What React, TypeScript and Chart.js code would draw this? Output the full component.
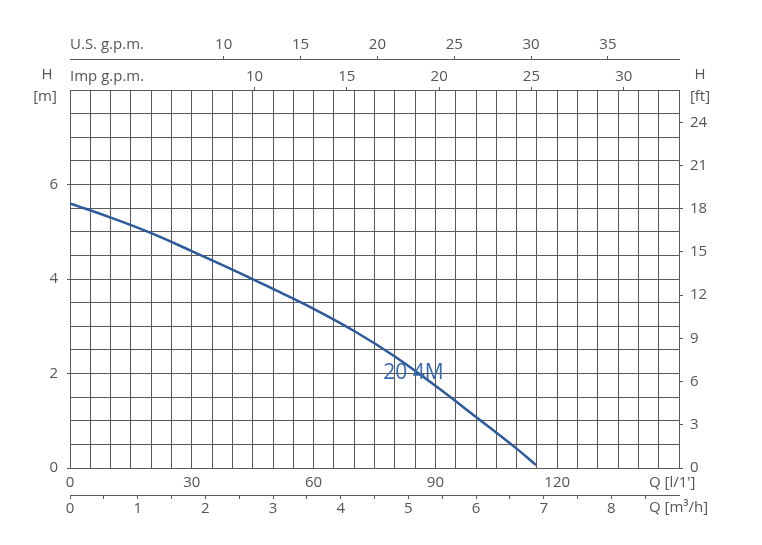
import React, { useEffect, useRef } from "react";
import { Chart, registerables } from "chart.js";
Chart.register(...registerables);

// Pump curve data (flow in l/min, head in m)
const Q_LPM = [0, 10, 20, 30, 40, 50, 60, 70, 80, 90, 100, 110, 114.8];
const H_M = [5.6, 5.3, 4.97, 4.59, 4.2, 3.79, 3.37, 2.9, 2.36, 1.74, 1.08, 0.41, 0.06];
const CURVE_LABEL = "20 4M";
const CURVE_LABEL_AT = { x: 84.6, y: 2.0 };

// Axis tick labels
const LPM_TICKS = [0, 30, 60, 90, 120];
const M3H_TICKS = [0, 1, 2, 3, 4, 5, 6, 7, 8];
const US_GPM_TICKS = [10, 15, 20, 25, 30, 35];
const IMP_GPM_TICKS = [10, 15, 20, 25, 30];
const HM_TICKS = [0, 2, 4, 6];
const HFT_TICKS = [0, 3, 6, 9, 12, 15, 18, 21, 24];

const LPM_MAX = 150;
const HM_MAX = 8;
const LPM_PER_M3H = 1000 / 60;
const LPM_PER_USGPM = 3.78541;
const LPM_PER_IMPGPM = 4.54609;
const FT_PER_M = 3.28084;

const FONT = "'Open Sans', sans-serif";
const TXT = "#555555";
const GRID = "#5a5a5a";
const BLUE = "#2c5a9c";

const steps = (min: number, max: number, step: number) => {
  const out: { value: number }[] = [];
  for (let v = min; v <= max + 1e-9; v += step) out.push({ value: Math.round(v * 1000) / 1000 });
  return out;
};
const setTicks = (vals: { value: number }[]) => (scale: any) => {
  scale.ticks = vals;
};
const has = (arr: number[], v: number) => arr.some((a) => Math.abs(a - v) < 1e-6);

export default function App() {
  const ref = useRef<HTMLCanvasElement>(null);
  useEffect(() => {
    const font = { family: FONT, size: 15 };
    const textPlugin = {
      id: "texts",
      afterDraw(chart: any) {
        const c = chart.ctx;
        const a = chart.chartArea;
        const sx = chart.scales.x;
        const sy = chart.scales.y;
        c.save();
        c.fillStyle = TXT;
        c.font = `15px ${FONT}`;
        c.textBaseline = "middle";
        c.textAlign = "left";
        c.fillText("U.S. g.p.m.", a.left, 45);
        c.fillText("Imp g.p.m.", a.left, 77);
        c.fillText("Q [l/1']", a.right - 30, 483);
        c.fillText("Q [m³/h]", a.right - 30, 508);
        c.textAlign = "center";
        c.fillText("H", a.left - 23, 75);
        c.fillText("[m]", a.left - 25, 97);
        c.fillText("H", a.right + 21, 75);
        c.fillText("[ft]", a.right + 21, 97);
        c.fillStyle = "#3a6bb0";
        c.font = `21px ${FONT}`;
        c.fillText(CURVE_LABEL, sx.getPixelForValue(CURVE_LABEL_AT.x), sy.getPixelForValue(CURVE_LABEL_AT.y));
        c.restore();
      },
    };
    const chart = new Chart(ref.current!, {
      type: "line",
      data: {
        datasets: [
          {
            data: Q_LPM.map((q, i) => ({ x: q, y: H_M[i] })),
            borderColor: BLUE,
            borderWidth: 2.5,
            pointRadius: 0,
            tension: 0.4,
            xAxisID: "x",
            yAxisID: "y",
          },
        ],
      },
      options: {
        animation: false,
        responsive: true,
        maintainAspectRatio: false,
        layout: { padding: 0 },
        plugins: { legend: { display: false }, tooltip: { enabled: false } },
        scales: {
          x: {
            type: "linear",
            position: "bottom",
            weight: 0,
            min: 0,
            max: LPM_MAX,
            afterBuildTicks: setTicks(steps(0, LPM_MAX, 5)),
            afterFit: (s: any) => { s.height = 27; },
            grid: { color: GRID, lineWidth: 1, drawTicks: false },
            border: { display: false },
            ticks: {
              font, color: TXT, padding: 6, maxRotation: 0, autoSkip: false,
              callback: (v: any) => (has(LPM_TICKS, v) ? String(v) : ""),
            },
          },
          x2: {
            type: "linear",
            position: "bottom",
            weight: 1,
            min: 0,
            max: LPM_MAX / LPM_PER_M3H,
            afterBuildTicks: setTicks(steps(0, 8.5, 0.5)),
            afterFit: (s: any) => { s.height = 50; },
            grid: { drawOnChartArea: false, color: GRID, tickLength: 4 },
            border: { display: true, color: GRID },
            ticks: {
              font, color: TXT, padding: 1, maxRotation: 0, autoSkip: false,
              callback: (v: any) => (has(M3H_TICKS, v) ? String(v) : ""),
            },
          },
          xi: {
            type: "linear",
            position: "top",
            weight: 0,
            min: 0,
            max: LPM_MAX / LPM_PER_IMPGPM,
            afterBuildTicks: setTicks(IMP_GPM_TICKS.map((v) => ({ value: v }))),
            afterFit: (s: any) => { s.height = 31; },
            grid: { drawOnChartArea: false, color: GRID, tickLength: 3 },
            border: { display: false },
            ticks: { font, color: TXT, padding: 1, maxRotation: 0, autoSkip: false },
          },
          xu: {
            type: "linear",
            position: "top",
            weight: 1,
            min: 0,
            max: LPM_MAX / LPM_PER_USGPM,
            afterBuildTicks: setTicks(US_GPM_TICKS.map((v) => ({ value: v }))),
            afterFit: (s: any) => { s.height = 59; },
            grid: { drawOnChartArea: false, color: GRID, tickLength: 3 },
            border: { display: true, color: GRID },
            ticks: { font, color: TXT, padding: 2, maxRotation: 0, autoSkip: false },
          },
          y: {
            type: "linear",
            position: "left",
            min: 0,
            max: HM_MAX,
            afterBuildTicks: setTicks(steps(0, HM_MAX, 0.5)),
            afterFit: (s: any) => { s.width = 70; },
            grid: {
              color: GRID,
              lineWidth: 1,
              tickLength: 3,
              tickColor: (ctx: any) => (ctx.tick && has(HM_TICKS, ctx.tick.value) ? GRID : "rgba(0,0,0,0)"),
            },
            border: { display: false },
            ticks: {
              font, color: TXT, padding: 9, autoSkip: false,
              callback: (v: any) => (has(HM_TICKS, v) ? String(v) : ""),
            },
          },
          yft: {
            type: "linear",
            position: "right",
            min: 0,
            max: HM_MAX * FT_PER_M,
            afterBuildTicks: setTicks(HFT_TICKS.map((v) => ({ value: v }))),
            afterFit: (s: any) => { s.width = 83; },
            grid: { drawOnChartArea: false, color: GRID, tickLength: 4 },
            border: { display: false },
            ticks: { font, color: TXT, padding: 7, autoSkip: false },
          },
        },
      },
      plugins: [textPlugin],
    } as any);
    return () => chart.destroy();
  }, []);
  return (
    <div style={{ position: "fixed", left: 0, top: 0, width: 762, height: 545, background: "#fff" }}>
      <canvas ref={ref} />
    </div>
  );
}
